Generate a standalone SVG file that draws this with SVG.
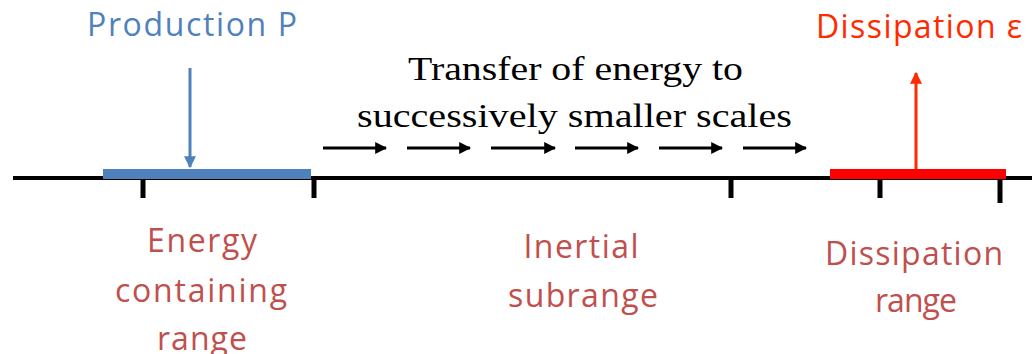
<svg xmlns="http://www.w3.org/2000/svg" width="1032" height="354" viewBox="0 0 1032 354">
<defs>
<style>
.cal{font-family:"Open Sans","Liberation Sans",sans-serif;font-size:32px}
.lbl{fill:#C0504D}
.ser{font-family:"Liberation Serif",serif;font-size:34px;fill:#000}
.tick{stroke:#000;stroke-width:5}
.flow{stroke:#000;stroke-width:3;marker-end:url(#ah)}
</style>
<marker id="ah" viewBox="0 0 10 10" refX="9" refY="5" markerWidth="4" markerHeight="4" orient="auto" markerUnits="strokeWidth"><path d="M0,0 L10,5 L0,10 z" fill="#000"/></marker>
<marker id="ahb" viewBox="0 0 10 10" refX="9" refY="5" markerWidth="4" markerHeight="4" orient="auto" markerUnits="strokeWidth"><path d="M0,0 L10,5 L0,10 z" fill="#4F81BD"/></marker>
<marker id="ahr" viewBox="0 0 10 10" refX="9" refY="5" markerWidth="4" markerHeight="4" orient="auto" markerUnits="strokeWidth"><path d="M0,0 L10,5 L0,10 z" fill="#FF2A00"/></marker>
</defs>
<rect width="1032" height="354" fill="#fff"/>
<g id="axis">
<line x1="13" y1="178" x2="1032" y2="178" stroke="#000" stroke-width="4"/>
<line class="tick" x1="143" y1="178" x2="143" y2="198"/>
<line class="tick" x1="314" y1="178" x2="314" y2="198"/>
<line class="tick" x1="731" y1="178" x2="731" y2="198"/>
<line class="tick" x1="880" y1="178" x2="880" y2="198"/>
<line class="tick" x1="1000" y1="178" x2="1000" y2="203"/>
</g>
<g id="energy-containing">
<rect x="103" y="169" width="208" height="10" fill="#4F81BD"/>
<text class="cal lbl" x="202" y="252" text-anchor="middle" textLength="110">Energy</text>
<text class="cal lbl" x="201" y="302" text-anchor="middle" textLength="172">containing</text>
<text class="cal lbl" x="202" y="350" text-anchor="middle" textLength="90">range</text>
</g>
<g id="production">
<text class="cal" x="87" y="36" fill="#4F81BD" textLength="210">Production P</text>
</g>
<g id="inertial">
<text class="cal lbl" x="581" y="258" text-anchor="middle" textLength="115">Inertial</text>
<text class="cal lbl" x="583" y="307" text-anchor="middle" textLength="150">subrange</text>
</g>
<g id="transfer">
<text class="ser" x="408" y="80" textLength="335" lengthAdjust="spacingAndGlyphs">Transfer of energy to</text>
<text class="ser" x="357" y="127" textLength="435" lengthAdjust="spacingAndGlyphs">successively smaller scales</text>
</g>
<g id="dissipation-range">
<rect x="830" y="169" width="176" height="10" fill="#FF0000"/>
<text class="cal lbl" x="914" y="265" text-anchor="middle" textLength="178">Dissipation</text>
<text class="cal lbl" x="916" y="312" text-anchor="middle" textLength="82">range</text>
</g>
<g id="dissipation">
<text class="cal" x="816" y="38" fill="#FF2A00" textLength="206">Dissipation ε</text>
</g>
<g id="connectors">
<line x1="190" y1="68" x2="190" y2="167" stroke="#4F81BD" stroke-width="3" marker-end="url(#ahb)"/>
<line x1="916" y1="169" x2="916" y2="73" stroke="#FF2A00" stroke-width="3" marker-end="url(#ahr)"/>
<line class="flow" x1="323" y1="148" x2="386" y2="148"/>
<line class="flow" x1="407" y1="148" x2="470" y2="148"/>
<line class="flow" x1="491" y1="148" x2="555" y2="148"/>
<line class="flow" x1="575" y1="148" x2="638" y2="148"/>
<line class="flow" x1="659" y1="148" x2="722" y2="148"/>
<line class="flow" x1="743" y1="148" x2="806" y2="148"/>
</g>
</svg>
